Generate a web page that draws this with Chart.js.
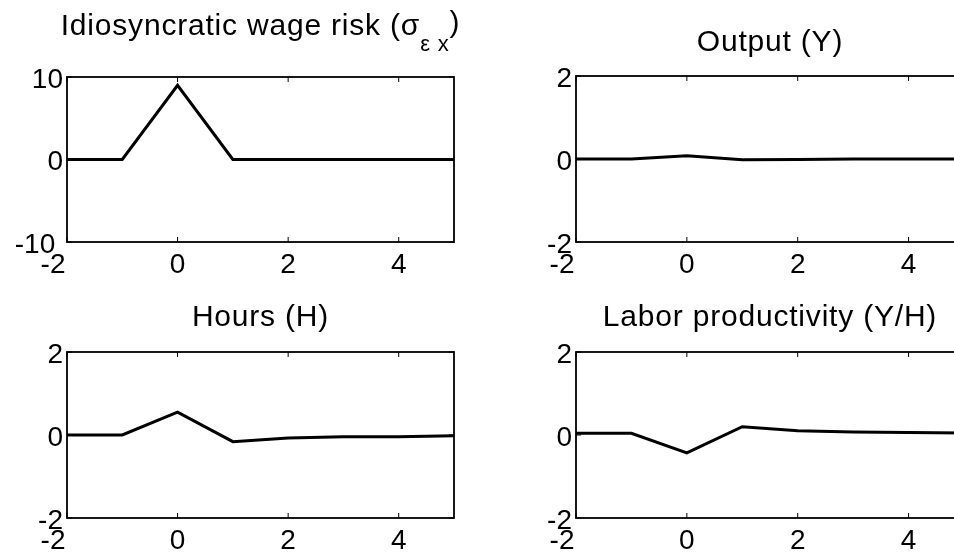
<!DOCTYPE html>
<html>
<head>
<meta charset="utf-8">
<title>Impulse responses</title>
<script src="https://cdn.jsdelivr.net/npm/chart.js@4.4.1/dist/chart.umd.min.js"></script>
<style>
    html, body { margin: 0; padding: 0; background: #fff; overflow: hidden; }
    #wrap { position: relative; width: 954px; height: 552px; overflow: hidden; }
    #wrap canvas { position: absolute; }
</style>
</head>
<body>
<div id="wrap">
    <canvas id="wage"></canvas>
    <canvas id="output"></canvas>
    <canvas id="hours"></canvas>
    <canvas id="productivity"></canvas>
</div>
<script>
// Data
// -----------------------------------
var periods = [-2, -1, 0, 1, 2, 3, 4, 5];
var wageRisk = [0, 0, 9, 0, 0, 0, 0, 0];
var output = [0, 0, 0.08, -0.02, -0.01, 0, 0, 0];
var hours = [0, 0, 0.55, -0.16, -0.07, -0.04, -0.04, -0.02];
var productivity = [0.04, 0.04, -0.43, 0.2, 0.1, 0.07, 0.06, 0.05];
var xTicks = [-2, 0, 2, 4];
var wageTicks = [-10, 0, 10];
var smallTicks = [-2, 0, 2];

// Layout
// -----------------------------------
var AXIS_W = 67, TOP_PAD = 80, RIGHT_PAD = 14, X_AXIS_H = 46;
var FONT = '"Liberation Sans", Arial, sans-serif';

// frame round the plot area, ticks pointing inward
var framePlugin = {
    id: 'frame',
    afterDatasetsDraw: function (chart) {
        var ctx = chart.ctx, a = chart.chartArea;
        var xs = chart.scales.x, ys = chart.scales.y;
        ctx.save();
        ctx.strokeStyle = '#000';
        ctx.lineWidth = 1.8;
        ctx.strokeRect(a.left, a.top, a.right - a.left, a.bottom - a.top);
        ctx.lineWidth = 1;
        ctx.beginPath();
        xs.ticks.forEach(function (t) {
            var px = xs.getPixelForValue(t.value);
            ctx.moveTo(px, a.bottom); ctx.lineTo(px, a.bottom - 5);
            ctx.moveTo(px, a.top); ctx.lineTo(px, a.top + 5);
        });
        ys.ticks.forEach(function (t) {
            var py = ys.getPixelForValue(t.value);
            ctx.moveTo(a.left, py); ctx.lineTo(a.left + 5, py);
            ctx.moveTo(a.right, py); ctx.lineTo(a.right - 5, py);
        });
        ctx.stroke();
        ctx.restore();
    }
};

// title with optional subscript parts (kept in a closure, not in chart options)
function titlePlugin(parts, gap) {
    return {
        id: 'panelTitle',
        afterDraw: function (chart) {
            var ctx = chart.ctx, a = chart.chartArea;
            var widths = [], total = 0;
            ctx.save();
            if ('letterSpacing' in ctx) ctx.letterSpacing = '0.8px';
            parts.forEach(function (p) {
                ctx.font = (p.sub ? 22 : 30) + 'px ' + FONT;
                var w = ctx.measureText(p.text).width;
                widths.push(w);
                total += w;
            });
            var x = (a.left + a.right) / 2 - total / 2;
            var base = a.top - gap;
            ctx.fillStyle = '#000';
            ctx.textBaseline = 'alphabetic';
            ctx.textAlign = 'left';
            parts.forEach(function (p, i) {
                ctx.font = (p.sub ? 22 : 30) + 'px ' + FONT;
                ctx.fillText(p.text, x, base + (p.dy ? p.dy : 0));
                x += widths[i];
            });
            ctx.restore();
        }
    };
}

function makePanel(id, plotLeft, plotTop, plotW, plotH, values, yTicks, parts, gap) {
    var canvas = document.getElementById(id);
    canvas.width = AXIS_W + plotW + RIGHT_PAD;
    canvas.height = TOP_PAD + plotH + X_AXIS_H;
    canvas.style.left = (plotLeft - AXIS_W) + 'px';
    canvas.style.top = (plotTop - TOP_PAD) + 'px';

    var tickFont = { family: FONT, size: 28 };
    return new Chart(canvas, {
        type: 'line',
        data: {
            datasets: [{
                data: periods.map(function (p, i) { return { x: p, y: values[i] }; }),
                borderColor: '#000',
                borderWidth: 3,
                pointRadius: 0,
                tension: 0,
                fill: false
            }]
        },
        options: {
            responsive: false,
            animation: false,
            devicePixelRatio: 1,
            layout: { padding: { top: TOP_PAD, right: RIGHT_PAD, left: 0, bottom: 0 } },
            plugins: {
                legend: { display: false },
                tooltip: { enabled: false }
            },
            scales: {
                x: {
                    type: 'linear',
                    min: periods[0],
                    max: periods[periods.length - 1],
                    afterBuildTicks: function (s) {
                        s.ticks = xTicks.map(function (v) { return { value: v }; });
                    },
                    afterFit: function (s) { s.height = X_AXIS_H; },
                    grid: { display: false, drawTicks: false },
                    border: { display: false },
                    ticks: {
                        color: '#000', font: tickFont, padding: 6, maxRotation: 0, autoSkip: false,
                        // matlab draws the leftmost label slightly to the left of its tick
                        callback: function (v) { return v === xTicks[0] ? v + '\u2003' : String(v); }
                    }
                },
                y: {
                    type: 'linear',
                    min: yTicks[0],
                    max: yTicks[yTicks.length - 1],
                    afterBuildTicks: function (s) {
                        s.ticks = yTicks.map(function (v) { return { value: v }; });
                    },
                    afterFit: function (s) { s.width = AXIS_W; },
                    grid: { display: false, drawTicks: false },
                    border: { display: false },
                    ticks: {
                        color: '#000', font: tickFont, padding: 4, labelOffset: 3, autoSkip: false,
                        callback: function (v) { return v <= -10 ? v + ' ' : String(v); }
                    }
                }
            }
        },
        plugins: [framePlugin, titlePlugin(parts, gap)]
    });
}

makePanel('wage', 67, 77, 387, 165, wageRisk, wageTicks, [
    { text: 'Idiosyncratic wage risk (σ' },
    { text: 'ε x', sub: true, dy: 16 },
    { text: ')', dy: -3 }
], 42);
makePanel('output', 576, 76, 388, 166, output, smallTicks, [{ text: 'Output (Y)' }], 25);
makePanel('hours', 67, 352, 387, 166, hours, smallTicks, [{ text: 'Hours (H)' }], 26);
makePanel('productivity', 576, 352, 388, 166, productivity, smallTicks, [{ text: 'Labor productivity (Y/H)' }], 26);
</script>
</body>
</html>
